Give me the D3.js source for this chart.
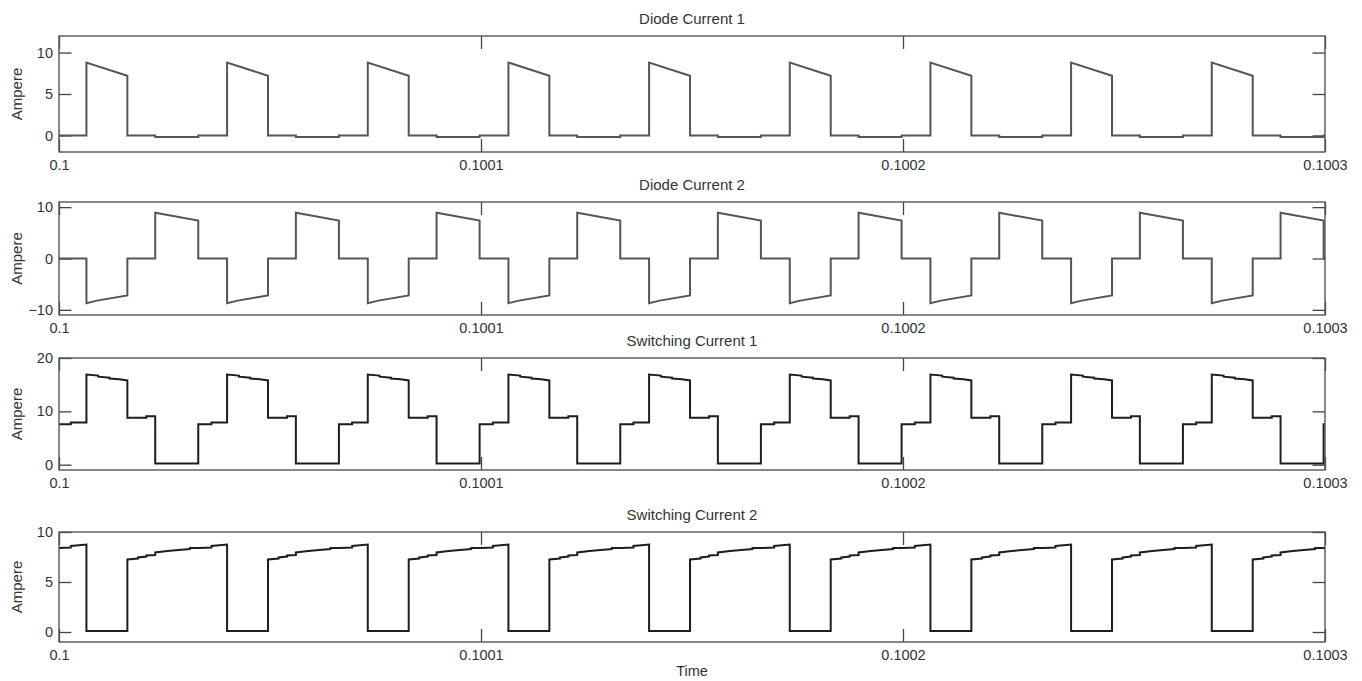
<!DOCTYPE html>
<html>
<head>
<meta charset="utf-8">
<script src="https://cdn.jsdelivr.net/npm/d3@7"></script>
<style>
  html, body { margin: 0; padding: 0; background: #fff; }
  svg { display: block; }
  text { font-family: "Liberation Sans", Arial, Helvetica, sans-serif; fill: #333; }
</style>
</head>
<body>
<svg id="chart" width="1362" height="681"></svg>
<script>
// ---- data (time in microseconds after t = 0.1 s) ----
const titles = ["Diode Current 1", "Diode Current 2", "Switching Current 1", "Switching Current 2"];
const yLabel = "Ampere";
const xLabel = "Time";
const xTickValues = [0, 100, 200, 300];
const xTickLabels = ["0.1", "0.1001", "0.1002", "0.1003"];
const yDomains = [[-2, 12], [-11, 11], [-1, 20], [-1, 10]];
const yTicks = [[0, 5, 10], [-10, 0, 10], [0, 10, 20], [0, 5, 10]];

// start time of each switching period (µs)
const periodStarts = [0, 33.33, 66.67, 100, 133.33, 166.67, 200, 233.33, 266.67];

// one period of each waveform: [t within period (µs), amps]
const diode1Period = [
  [0, 0], [6.5, 0], [6.5, 8.8], [16.2, 7.2], [16.2, 0], [22.8, 0],
  [22.8, -0.2], [33.0, -0.2], [33.0, 0], [33.33, 0]
];
const diode2Period = [
  [0, 0], [6.5, 0], [6.5, -8.7], [9.0, -8.2], [16.2, -7.2], [16.2, 0], [22.8, 0],
  [22.8, 8.9], [33.0, 7.4], [33.0, 0], [33.33, 0]
];
const switch1Period = [
  [0, 7.6], [2.8, 7.6], [2.8, 7.9], [6.5, 7.9], [6.5, 16.9], [9.3, 16.7],
  [9.3, 16.5], [12.0, 16.3], [12.0, 16.15], [14.3, 16.0], [16.2, 15.8],
  [16.2, 8.8], [20.7, 8.8], [20.7, 9.1], [22.8, 9.1], [22.8, 0.2],
  [33.0, 0.2], [33.0, 7.6], [33.33, 7.6]
];
const switch2Period = [
  [0, 8.4], [2.8, 8.45], [2.8, 8.6], [6.5, 8.75], [6.5, 0.1], [16.2, 0.1],
  [16.2, 7.25], [18.7, 7.35], [18.7, 7.45], [20.7, 7.55], [20.7, 7.65],
  [22.8, 7.7], [22.8, 7.95], [25.7, 8.1], [28.3, 8.2], [31.0, 8.3],
  [31.0, 8.4], [33.33, 8.4]
];
const seriesPeriods = [diode1Period, diode2Period, switch1Period, switch2Period];
const lineColors = ["#555555", "#555555", "#1e1e1e", "#1e1e1e"];

// ---- layout ----
const left = 59, right = 1325;
const panels = [
  { top: 36, bottom: 152 },
  { top: 202, bottom: 315 },
  { top: 358, bottom: 470 },
  { top: 532, bottom: 642 }
];

const svg = d3.select("#chart");
const x = d3.scaleLinear().domain([0, 300]).range([left, right]);

function tile(period) {
  const pts = [];
  periodStarts.forEach(p => period.forEach(([t, v]) => pts.push([p + t, v])));
  return pts;
}

panels.forEach((pn, i) => {
  const y = d3.scaleLinear().domain(yDomains[i]).range([pn.bottom, pn.top]);
  const g = svg.append("g");

  const clipId = "clip" + i;
  svg.append("clipPath").attr("id", clipId)
    .append("rect").attr("x", left).attr("y", pn.top)
    .attr("width", right - left).attr("height", pn.bottom - pn.top);

  // axes (ticks inward)
  const axL = g.append("g").attr("transform", `translate(${left},0)`)
    .call(d3.axisLeft(y).tickValues(yTicks[i]).tickSize(-12.5).tickPadding(6).tickFormat(d3.format("d")));
  const axR = g.append("g").attr("transform", `translate(${right},0)`)
    .call(d3.axisRight(y).tickValues(yTicks[i]).tickSize(-12.5).tickFormat(""));
  const axB = g.append("g").attr("transform", `translate(0,${pn.bottom})`)
    .call(d3.axisBottom(x).tickValues(xTickValues).tickSize(-13).tickPadding(8)
      .tickFormat((d, k) => xTickLabels[k]));
  const axT = g.append("g").attr("transform", `translate(0,${pn.top})`)
    .call(d3.axisTop(x).tickValues(xTickValues).tickSize(-13).tickFormat(""));

  [axL, axR, axB, axT].forEach(a => {
    a.select(".domain").remove();
    a.selectAll(".tick line").attr("stroke", "#444").attr("stroke-width", 1.3);
    a.selectAll(".tick text").attr("font-size", 14.5).attr("fill", "#333")
      .attr("font-family", "'Liberation Sans', Arial, sans-serif");
  });

  // data line
  const line = d3.line().x(d => x(d[0])).y(d => y(d[1]));
  g.append("path")
    .datum(tile(seriesPeriods[i]))
    .attr("clip-path", `url(#${clipId})`)
    .attr("fill", "none")
    .attr("stroke", lineColors[i])
    .attr("stroke-width", 2)
    .attr("stroke-linejoin", "miter")
    .attr("d", line);

  // box
  g.append("rect")
    .attr("x", left).attr("y", pn.top)
    .attr("width", right - left).attr("height", pn.bottom - pn.top)
    .attr("fill", "none").attr("stroke", "#555").attr("stroke-width", 1.4);

  // title
  g.append("text")
    .attr("x", (left + right) / 2).attr("y", pn.top - 12)
    .attr("text-anchor", "middle").attr("font-size", 15)
    .text(titles[i]);

  // y label
  g.append("text")
    .attr("transform", `translate(22,${(pn.top + pn.bottom) / 2}) rotate(-90)`)
    .attr("text-anchor", "middle").attr("font-size", 15)
    .text(yLabel);
});

svg.append("text")
  .attr("x", (left + right) / 2).attr("y", 676)
  .attr("text-anchor", "middle").attr("font-size", 14.5)
  .text(xLabel);
</script>
</body>
</html>
